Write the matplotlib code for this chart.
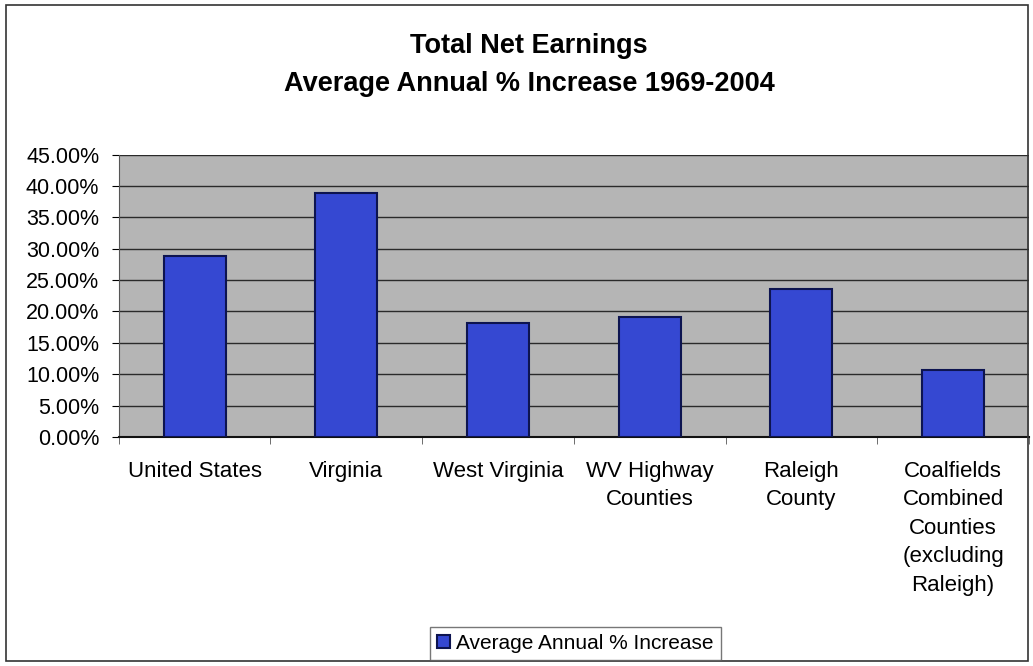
import matplotlib.pyplot as plt
import numpy as np
from matplotlib.ticker import FuncFormatter, MultipleLocator

plt.rcParams['font.family'] = ['Liberation Sans', 'DejaVu Sans']

categories = ['United States', 'Virginia', 'West Virginia', 'WV Highway\nCounties',
              'Raleigh\nCounty', 'Coalfields\nCombined\nCounties\n(excluding\nRaleigh)']
increase = [28.9, 38.9, 18.2, 19.1, 23.6, 10.7]

fig = plt.figure(figsize=(10.33, 6.66), dpi=100)
ax = fig.add_axes([0.115, 0.344, 0.881, 0.424])

x = np.arange(len(categories))
ax.bar(x, increase, width=0.41, color='#3548d2', edgecolor='#0d1450', linewidth=1.5,
       label='Average Annual % Increase', zorder=3)

ax.set_facecolor('#b5b5b5')
ax.set_xlim(-0.5, len(categories) - 0.5)
ax.set_ylim(0, 45)
ax.yaxis.set_major_locator(MultipleLocator(5))
ax.yaxis.set_major_formatter(FuncFormatter(lambda v, p: f'{v:.2f}%'))
ax.grid(axis='y', color='#2a2a2a', linewidth=1.0, zorder=1)

ax.set_xticks(x)
ax.set_xticklabels(categories, fontsize=16, linespacing=1.47, va='top')
ax.tick_params(axis='x', length=0, pad=17)
ax.set_xticks(np.arange(-0.5, len(categories)), minor=True)
ax.tick_params(axis='x', which='minor', length=5, color='#555555')
ax.tick_params(axis='y', labelsize=15.5, length=5, pad=9)

for s in ['top', 'right']:
    ax.spines[s].set_visible(False)
ax.spines['left'].set_color('#555555')
ax.spines['bottom'].set_color('#111111')
ax.spines['bottom'].set_linewidth(1.5)

fig.text(0.512, 0.902, 'Total Net Earnings\nAverage Annual % Increase 1969-2004',
         ha='center', va='center', fontsize=19.5, fontweight='bold', linespacing=1.6)

fig.legend(loc='center', bbox_to_anchor=(0.557, 0.034), fontsize=15, frameon=True,
           fancybox=False, edgecolor='#555555', handlelength=0.6, handleheight=0.6,
           handletextpad=0.3, borderpad=0.35)

border = plt.Rectangle((0.006, 0.008), 0.989, 0.985, transform=fig.transFigure,
                       fill=False, edgecolor='#333333', linewidth=1.2)
fig.patches.append(border)

fig.savefig('out.png', dpi=100)
